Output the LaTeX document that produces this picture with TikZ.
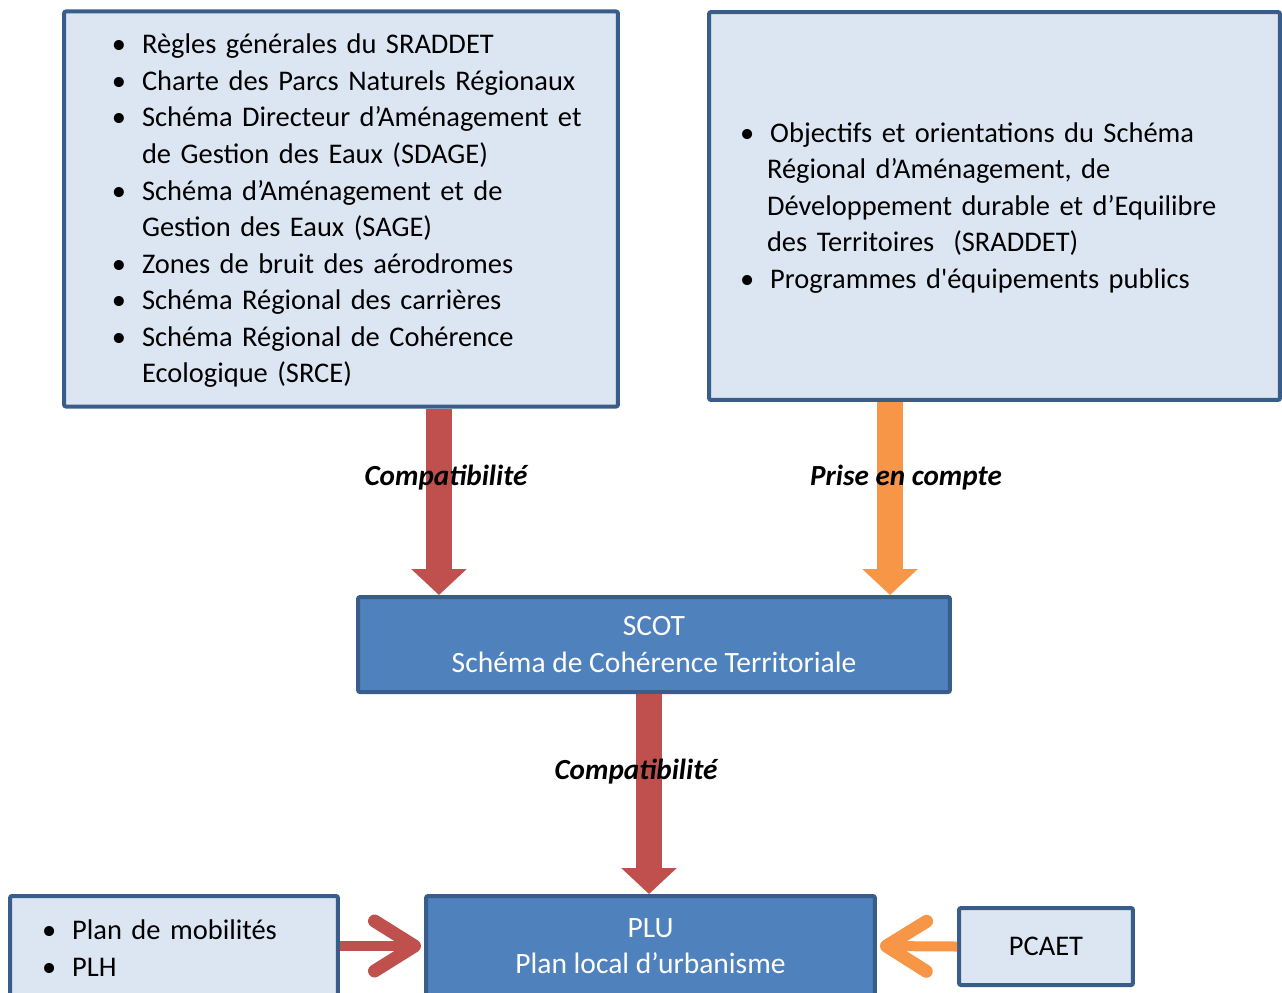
\documentclass[tikz,border=0pt]{standalone}
\usepackage{fontspec}
\setmainfont{Carlito}
\usetikzlibrary{arrows.meta}

\definecolor{bordbleu}{HTML}{385D8A}
\definecolor{fondclair}{HTML}{DCE6F2}
\definecolor{bleuplein}{HTML}{4F81BD}
\definecolor{rougebrique}{HTML}{C0504D}
\definecolor{orangeclair}{HTML}{F79646}

% liste a puces, #1 = retrait supplementaire a gauche
\newenvironment{puces}[1][0cm]%
  {\begin{list}{\textbullet}{\setlength{\leftmargin}{\dimexpr0.54cm+#1\relax}%
     \setlength{\labelwidth}{\dimexpr0.22cm+#1\relax}\setlength{\labelsep}{0.32cm}%
     \setlength{\itemsep}{0pt}\setlength{\parsep}{0pt}%
     \setlength{\topsep}{0pt}\setlength{\partopsep}{0pt}}\raggedright}%
  {\end{list}\vspace*{0.26cm}}

\tikzset{
  cadre/.style={draw=bordbleu, line width=0.08cm, rounded corners=0.04cm},
  boiteclaire/.style={cadre, fill=fondclair, text=black, align=left},
  boitebleue/.style={cadre, fill=bleuplein, text=white, align=center,
    font=\fontsize{16.8}{20.8}\selectfont},
  grossefleche/.style={line width=0.52cm, -{Triangle[width=1.08cm,length=0.52cm]}},
  chevron/.style={line width=0.2cm, shorten >=0.06cm,
    -{Straight Barb[length=0.8cm,width=1.0cm,round,line width=0.26cm]}},
  lien/.style={font=\fontsize{16.6}{20.8}\selectfont\bfseries\itshape, text=black},
}

\begin{document}
\begin{tikzpicture}[x=0.02cm, y=-0.02cm,
  every node/.style={font=\fontsize{16.2}{20.8}\selectfont}]

\useasboundingbox (0,0) rectangle (1282,992);

% documents de rang superieur
\node[boiteclaire, minimum height=7.88cm, text width=10.16cm, inner xsep=0.46cm]
  (regles) at (341,209) {%
  \begin{puces}[0.56cm]
  \item Règles générales du SRADDET
  \item Charte des Parcs Naturels Régionaux
  \item Schéma Directeur d’Aménagement et\newline de Gestion des Eaux (SDAGE)
  \item Schéma d’Aménagement et de\newline Gestion des Eaux (SAGE)
  \item Zones de bruit des aérodromes
  \item Schéma Régional des carrières
  \item Schéma Régional de Cohérence\newline Ecologique (SRCE)
  \end{puces}};

\node[boiteclaire, minimum height=7.76cm, text width=10.18cm, inner xsep=0.62cm]
  (sraddet) at (994.5,206) {%
  \begin{puces}
  \item Objectifs et orientations du Schéma\newline Régional d’Aménagement, de\newline
        Développement durable et d’Equilibre\newline des Territoires\ \ (SRADDET)
  \item Programmes d\textquotesingle équipements publics
  \end{puces}};

% documents d'urbanisme
\node[boitebleue, minimum width=11.84cm, minimum height=1.9cm] (scot) at (654,644.5)
  {SCOT\\Schéma de Cohérence Territoriale};
\node[boitebleue, minimum width=8.98cm, minimum height=2cm] (plu) at (650.5,946)
  {PLU\\Plan local d’urbanisme};

\node[boiteclaire, minimum height=2cm, text width=5.28cm, inner xsep=0.64cm]
  (mobilite) at (174,946) {%
  \begin{puces}
  \item Plan de mobilités
  \item PLH
  \end{puces}};
\node[boiteclaire, align=center, minimum width=3.48cm, minimum height=1.54cm]
  (pcaet) at (1046,946.5) {PCAET};

% liens
\draw[grossefleche, rougebrique] ([xshift=1.96cm]regles.south)
  -- ([xshift=1.96cm]regles.south |- scot.north)
  node[lien, pos=0.37, xshift=0.14cm] {Compatibilité};
\draw[grossefleche, orangeclair] ([xshift=-2.09cm]sraddet.south)
  -- ([xshift=-2.09cm]sraddet.south |- scot.north)
  node[lien, pos=0.39, xshift=0.32cm] {Prise en compte};
\draw[grossefleche, rougebrique] ([xshift=-0.1cm]scot.south)
  -- ([xshift=-0.1cm]scot.south |- plu.north)
  node[lien, pos=0.39, xshift=-0.26cm] {Compatibilité};

\draw[chevron, rougebrique] (mobilite.east) -- (plu.west);
\draw[chevron, orangeclair] (pcaet.west) -- (plu.east);

\end{tikzpicture}
\end{document}
